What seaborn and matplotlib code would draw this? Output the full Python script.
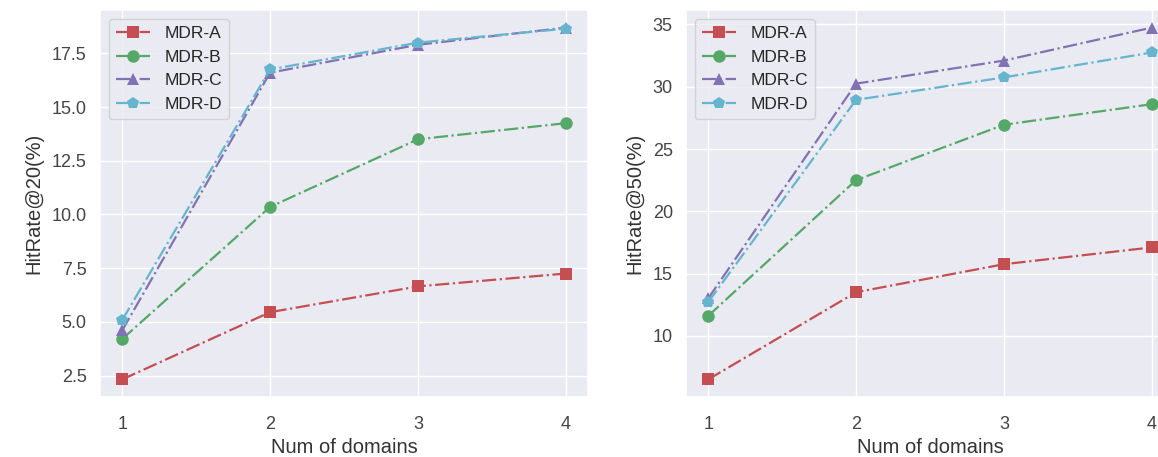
import matplotlib
matplotlib.use("Agg")
import matplotlib.pyplot as plt
import seaborn as sns

# data
domains = [1, 2, 3, 4]
models = ["MDR-A", "MDR-B", "MDR-C", "MDR-D"]

hr20_a = [2.32, 5.45, 6.65, 7.25]
hr20_b = [4.2, 10.35, 13.5, 14.25]
hr20_c = [4.6, 16.6, 17.9, 18.7]
hr20_d = [5.08, 16.75, 18.0, 18.65]

hr50_a = [6.5, 13.5, 15.75, 17.1]
hr50_b = [11.6, 22.5, 26.95, 28.6]
hr50_c = [13.0, 30.25, 32.1, 34.75]
hr50_d = [12.7, 28.95, 30.75, 32.75]

sns.set_theme(style="darkgrid", palette="deep", color_codes=True)
plt.rcParams["font.family"] = ["Liberation Sans", "DejaVu Sans"]

colors = ["r", "g", "m", "c"]
markers = ["s", "o", "^", "p"]

fig = plt.figure(figsize=(11.58, 4.57), dpi=100)
ax1 = fig.add_axes([100 / 1158, 60 / 457, 488 / 1158, 387 / 457])
ax2 = fig.add_axes([686 / 1158, 60 / 457, 488 / 1158, 387 / 457])

panels = [
    (ax1, [hr20_a, hr20_b, hr20_c, hr20_d], "HitRate@20(%)"),
    (ax2, [hr50_a, hr50_b, hr50_c, hr50_d], "HitRate@50(%)"),
]

for ax, series, ylab in panels:
    for name, vals, col, mk in zip(models, series, colors, markers):
        sns.lineplot(x=domains, y=vals, ax=ax, color=col, marker=mk,
                     markersize=9, markeredgewidth=0, linestyle="-.",
                     linewidth=1.6, label=name, legend=False)
    ax.set_xticks(domains)
    ax.set_xlabel("Num of domains", fontsize=14.5, color="#333333", labelpad=3)
    ax.set_ylabel(ylab, fontsize=14.5, color="#333333", labelpad=6)
    ax.tick_params(labelsize=13, colors="#444444")
    ax.tick_params(axis="x", pad=8)
    ax.legend(handles=ax.lines, labels=models, loc="upper left",
              fontsize=12.5, handlelength=2.0)

fig.savefig("out.png", dpi=100)
